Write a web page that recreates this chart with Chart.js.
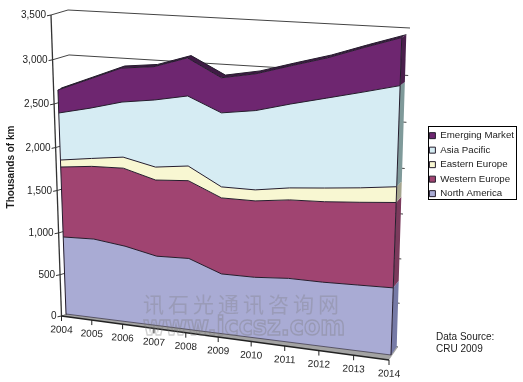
<!DOCTYPE html>
<html>
<head>
<meta charset="utf-8">
<style>
html, body { margin: 0; padding: 0; background: #fff; }
canvas { display: block; }
</style>
<script src="https://cdn.jsdelivr.net/npm/chart.js@4"></script>
</head>
<body>
<canvas id="grafik" width="523" height="382"></canvas>
<script>
// DATA
const years = ['2004','2005','2006','2007','2008','2009','2010','2011','2012','2013','2014'];
const northAmerica = [917,924,873,791,799,661,660,684,679,685,691];
const westernEurope = [833,853,902,868,874,842,834,844,853,864,879];
const easternEurope = [83,93,128,148,165,122,120,129,145,151,162];
const asiaPacific = [560,590,637,765,787,820,866,903,953,1000,1041];
const emergingMarket = [274,340,393,380,428,389,402,412,427,466,495];
const yMax = 3500;
const yStep = 500;

// 3D LOOK: corners are [top-left, top-right, bottom-right, bottom-left]
// kU squeezes the far (left) side, kV the lower part of a plane
function buatBidang(q, kU, kV) {
    return (u, v) => {
        const s = u / (u + (1 - u) * kU);
        const t = v / (v + (1 - v) * kV);
        const atas = { x: q[0][0] + (q[1][0] - q[0][0]) * s, y: q[0][1] + (q[1][1] - q[0][1]) * s };
        const bawah = { x: q[3][0] + (q[2][0] - q[3][0]) * s, y: q[3][1] + (q[2][1] - q[3][1]) * s };
        return { x: atas.x + (bawah.x - atas.x) * t, y: atas.y + (bawah.y - atas.y) * t };
    };
}
const bidangDepan = buatBidang([[55.4, 20], [402.5, 15], [391, 355], [66, 314]], 1.09, 1);
const bidangBelakang = buatBidang([[58.4, 18.5], [407, 12.5], [396.7, 346.7], [70, 311]], 1.09, 1);
const dinding = buatBidang([[68, 10], [410, 28], [398, 347], [74.7, 312]], 1.09, 0.953);
const sumbu = buatBidang([[51, 15], [402, 11], [389, 360], [61.5, 316]], 1.09, 0.953);

const warnaGaris = '#241c2c';
const warnaSisi = ['#767aa6', '#7b3a5c', '#a5a58e', '#7f9a9a', '#4a1f4c'];

function keUV(chart, px, py) {
    const a = chart.chartArea;
    return [(px - a.left) / (a.right - a.left), (py - a.top) / (a.bottom - a.top)];
}

function poligon(ctx, titik, warna) {
    ctx.beginPath();
    titik.forEach((p, i) => { if (i === 0) ctx.moveTo(p.x, p.y); else ctx.lineTo(p.x, p.y); });
    ctx.closePath();
    ctx.fillStyle = warna;
    ctx.fill();
}

function garis(ctx, a, b, warna, lebar) {
    ctx.beginPath();
    ctx.moveTo(a.x, a.y);
    ctx.lineTo(b.x, b.y);
    ctx.strokeStyle = warna;
    ctx.lineWidth = lebar;
    ctx.stroke();
}

const efek3d = {
    id: 'efek3d',
    // legend sits closer to the right edge than the layout allows
    afterLayout(chart) {
        chart.legend.left += 6;
        chart.legend.right += 6;
    },
    // move the points the library placed onto the tilted front plane
    afterDatasetsUpdate(chart) {
        chart.data.datasets.forEach((ds, i) => {
            chart.getDatasetMeta(i).data.forEach(p => {
                const [u, v] = keUV(chart, p.x, p.y);
                const q = bidangDepan(u, v);
                p.uv = [u, v];
                p.x = q.x;
                p.y = q.y;
            });
        });
    },
    beforeDatasetsDraw(chart) {
        const ctx = chart.ctx;
        const y = chart.scales.y;

        // back wall grid lines
        y.ticks.forEach(t => {
            const v = keUV(chart, 0, y.getPixelForValue(t.value))[1];
            garis(ctx, sumbu(0, v), dinding(0, v), '#444', 1);
            garis(ctx, dinding(0, v), dinding(1, v), '#444', 1);
        });

        // floor
        poligon(ctx, [sumbu(0, 1), sumbu(1, 1), dinding(1, 1), dinding(0, 1)], '#a3a3a3');

        const metas = chart.data.datasets.map((ds, i) => chart.getDatasetMeta(i).data);

        // top face of the stack
        const puncak = metas[metas.length - 1];
        const depan = puncak.map(p => ({ x: p.x, y: p.y }));
        const belakang = puncak.map(p => bidangBelakang(p.uv[0], p.uv[1])).reverse();
        poligon(ctx, depan.concat(belakang), '#3f1a45');
        ctx.beginPath();
        belakang.forEach((p, i) => { if (i === 0) ctx.moveTo(p.x, p.y); else ctx.lineTo(p.x, p.y); });
        ctx.strokeStyle = warnaGaris;
        ctx.lineWidth = 1;
        ctx.stroke();

        // front and right side of each band
        metas.forEach((titik, i) => {
            const bawah = i === 0
                ? titik.map(p => bidangDepan(p.uv[0], 1))
                : metas[i - 1].map(p => ({ x: p.x, y: p.y }));
            const atas = titik.map(p => ({ x: p.x, y: p.y }));
            const n = titik.length - 1;
            const uvAtas = titik[n].uv;
            const uvBawah = i === 0 ? [titik[n].uv[0], 1] : metas[i - 1][n].uv;
            poligon(ctx, [atas[n], bidangBelakang(uvAtas[0], uvAtas[1]),
                bidangBelakang(uvBawah[0], uvBawah[1]), bawah[n]], warnaSisi[i]);
            poligon(ctx, atas.concat(bawah.slice().reverse()), chart.data.datasets[i].backgroundColor);
            garis(ctx, atas[0], bawah[0], warnaGaris, 1);
            garis(ctx, atas[n], bawah[n], warnaGaris, 1);
            if (i === 0) garis(ctx, bawah[0], bawah[n], warnaGaris, 0.6);
        });
    },
    afterDraw(chart) {
        const ctx = chart.ctx;
        const y = chart.scales.y, x = chart.scales.x;
        ctx.save();

        // axis lines
        garis(ctx, sumbu(0, 0), sumbu(0, 1), '#333', 1.3);
        garis(ctx, sumbu(0, 1), sumbu(1, 1), '#222', 1.3);

        ctx.fillStyle = '#1c1c1c';
        ctx.font = '10px "Liberation Sans"';
        ctx.textBaseline = 'middle';

        // y ticks
        ctx.textAlign = 'right';
        y.ticks.forEach(t => {
            const v = keUV(chart, 0, y.getPixelForValue(t.value))[1];
            const p = sumbu(0, v);
            garis(ctx, { x: p.x - 4, y: p.y + 0.8 }, p, '#333', 1);
            ctx.fillText(t.label, p.x - 5, p.y + 0.5);
        });

        // x ticks
        ctx.textAlign = 'center';
        x.ticks.forEach((t, i) => {
            const u = keUV(chart, x.getPixelForTick(i), 0)[0];
            const p = sumbu(u, 1);
            garis(ctx, p, { x: p.x, y: p.y + 5 }, '#222', 1);
            ctx.save();
            ctx.translate(p.x, p.y + 14);
            ctx.rotate(3 * Math.PI / 180);
            ctx.fillText(t.label, 0, 0);
            ctx.restore();
        });

        // axis title
        ctx.save();
        ctx.translate(11, 167);
        ctx.rotate(-Math.PI / 2);
        ctx.font = 'bold 10px "Liberation Sans"';
        ctx.fillText('Thousands of km', 0, 0);
        ctx.restore();

        // source note
        ctx.textAlign = 'left';
        ctx.font = '10px "Liberation Sans"';
        ctx.fillText('Data Source:', 436, 337);
        ctx.fillText('CRU 2009', 436, 349);

        // legend frame
        ctx.strokeStyle = '#000';
        ctx.lineWidth = 1;
        ctx.strokeRect(428.5, 126.5, 88, 73);

        // watermark
        ctx.textAlign = 'left';
        ctx.fillStyle = 'rgba(120,120,120,0.3)';
        ctx.font = '21px "Noto Sans CJK SC"';
        ctx.letterSpacing = '4px';
        ctx.fillText('讯石光通讯咨询网', 143, 304);
        ctx.letterSpacing = '0px';
        ctx.strokeStyle = 'rgba(120,120,120,0.35)';
        ctx.lineWidth = 1.5;
        ctx.textBaseline = 'alphabetic';
        ctx.font = 'bold 26px "DejaVu Sans"';
        ctx.strokeText('www.iccsz.com', 143, 335, 202);
        ctx.restore();
    }
};

// 5. INITIALIZE
function seri(label, data, warna) {
    return {
        label: label,
        data: data,
        backgroundColor: warna,
        borderColor: warnaGaris,
        borderWidth: 1,
        pointRadius: 0,
        fill: false,
        tension: 0,
        clip: false
    };
}

new Chart(document.getElementById('grafik'), {
    type: 'line',
    data: {
        labels: years,
        datasets: [
            seri('North America', northAmerica, '#a9abd4'),
            seri('Western Europe', westernEurope, '#a04471'),
            seri('Eastern Europe', easternEurope, '#f8f7d2'),
            seri('Asia Pacific', asiaPacific, '#d6ecf3'),
            seri('Emerging Market', emergingMarket, '#6e2670')
        ]
    },
    options: {
        responsive: false,
        animation: false,
        events: [],
        layout: { padding: { top: 126, right: 5 } },
        plugins: {
            tooltip: { enabled: false },
            legend: {
                position: 'right',
                align: 'start',
                reverse: true,
                labels: {
                    boxWidth: 6,
                    boxHeight: 6,
                    padding: 4.8,
                    color: '#1c1c1c',
                    font: { family: '"Liberation Sans"', size: 9.7 }
                }
            }
        },
        scales: {
            x: {
                ticks: { display: false, autoSkip: false },
                grid: { display: false },
                border: { display: false }
            },
            y: {
                stacked: true,
                min: 0,
                max: yMax,
                ticks: { display: false, stepSize: yStep, callback: v => v.toLocaleString('en-US') },
                grid: { display: false },
                border: { display: false }
            }
        }
    },
    plugins: [efek3d]
});
</script>
</body>
</html>
